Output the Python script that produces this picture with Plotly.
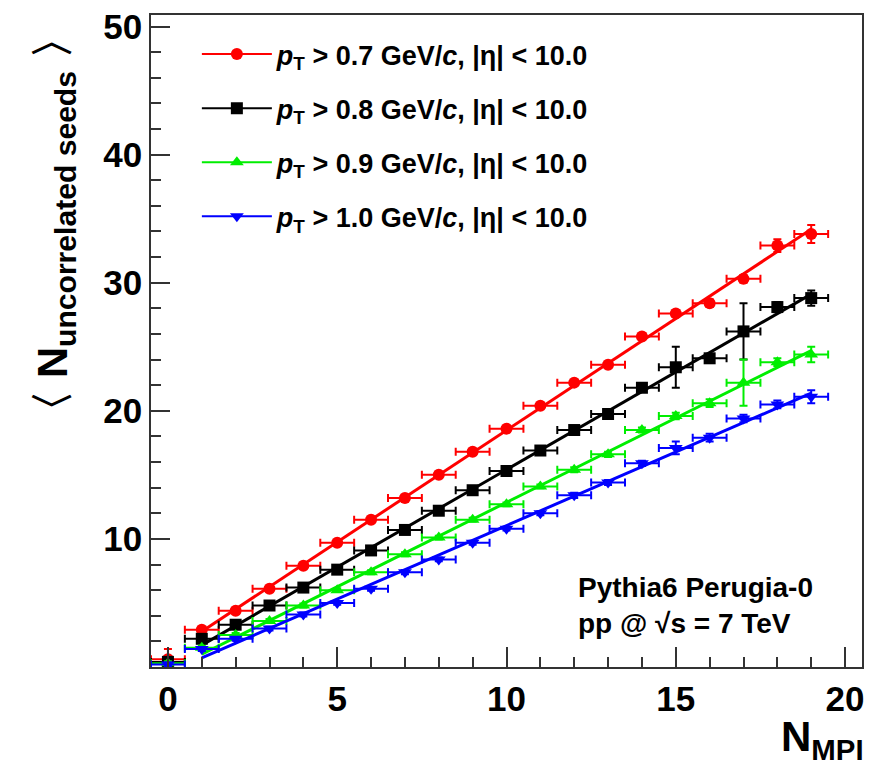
import numpy as np
import plotly.graph_objects as go

# ---- data ----
n_mpi = list(range(0, 20))
red_vals = [0.6, 2.9, 4.4, 6.1, 7.9, 9.7, 11.5, 13.2, 15.0, 16.8, 18.6, 20.4, 22.2, 23.6, 25.8, 27.6, 28.4, 30.3, 32.9, 33.8]
black_vals = [0.4, 2.2, 3.3, 4.8, 6.2, 7.6, 9.1, 10.7, 12.2, 13.8, 15.3, 16.9, 18.5, 19.75, 21.8, 23.4, 24.1, 26.2, 28.1, 28.8]
green_vals = [0.3, 1.5, 2.5, 3.6, 4.8, 6.0, 7.4, 8.8, 10.1, 11.5, 12.7, 14.1, 15.4, 16.6, 18.5, 19.6, 20.6, 22.2, 23.8, 24.4]
blue_vals = [0.2, 1.4, 2.2, 3.0, 4.1, 5.0, 6.1, 7.4, 8.4, 9.7, 10.8, 12.0, 13.4, 14.4, 15.9, 17.1, 17.9, 19.4, 20.5, 21.1]

red_err = [0.8, 0.15, 0.15, 0.15, 0.15, 0.15, 0.15, 0.15, 0.15, 0.15, 0.15, 0.15, 0.2, 0.2, 0.2, 0.25, 0.3, 0.3, 0.5, 0.7]
black_err = [0.15, 0.15, 0.15, 0.15, 0.15, 0.15, 0.15, 0.15, 0.15, 0.15, 0.15, 0.15, 0.2, 0.2, 0.2, 1.6, 0.3, 2.2, 0.4, 0.6]
green_err = [0.15, 0.15, 0.15, 0.15, 0.15, 0.15, 0.15, 0.15, 0.15, 0.15, 0.15, 0.15, 0.2, 0.2, 0.2, 0.25, 0.3, 1.8, 0.3, 0.6]
blue_err = [0.15, 0.15, 0.15, 0.15, 0.15, 0.15, 0.15, 0.15, 0.15, 0.15, 0.15, 0.15, 0.2, 0.2, 0.2, 0.5, 0.3, 0.3, 0.3, 0.5]
x_half_width = 0.5

labels = [
    "<i>p</i><sub>T</sub> > 0.7 GeV/<i>c</i>, |η| < 10.0",
    "<i>p</i><sub>T</sub> > 0.8 GeV/<i>c</i>, |η| < 10.0",
    "<i>p</i><sub>T</sub> > 0.9 GeV/<i>c</i>, |η| < 10.0",
    "<i>p</i><sub>T</sub> > 1.0 GeV/<i>c</i>, |η| < 10.0",
]
colors = ["#ff0000", "#000000", "#00ee00", "#0000ff"]
symbols = ["circle", "square", "triangle-up", "triangle-down"]
series = [red_vals, black_vals, green_vals, blue_vals]
errors = [red_err, black_err, green_err, blue_err]
fit_range = (1, 19)

FONT = "Liberation Sans, Arial, Helvetica, sans-serif"

fig = go.Figure()

for i, (vals, errs, col, sym, lab) in enumerate(zip(series, errors, colors, symbols, labels)):
    xs = np.array(n_mpi, dtype=float)
    ys = np.array(vals, dtype=float)
    fig.add_trace(go.Scatter(
        x=xs, y=ys, mode="markers",
        marker=dict(symbol=sym, size=12, color=col, line=dict(width=0)),
        error_x=dict(type="constant", value=x_half_width, color=col, thickness=2, width=4),
        error_y=dict(type="data", array=errs, color=col, thickness=2, width=4),
        showlegend=False, hoverinfo="skip",
    ))
    m = (xs >= fit_range[0]) & (xs <= fit_range[1])
    p = np.polyfit(xs[m], ys[m], 1)
    fx = np.array(fit_range, dtype=float)
    fig.add_trace(go.Scatter(
        x=fx, y=np.polyval(p, fx), mode="lines",
        line=dict(color=col, width=3), showlegend=False, hoverinfo="skip",
    ))
    fig.add_trace(go.Scatter(
        x=[None], y=[None], mode="lines+markers", name=lab,
        line=dict(color=col, width=2),
        marker=dict(symbol=sym, size=12, color=col),
        legendgroup=f"g{i}", showlegend=True,
    ))

axis_common = dict(
    showgrid=False, zeroline=False, showline=True, mirror=True,
    linecolor="#333333", linewidth=1.5,
    ticks="inside", tickcolor="#333333", tickwidth=1.5,
    tickfont=dict(family=FONT, size=35, color="black", weight="bold"),
)

fig.update_xaxes(
    range=[-0.5, 20.5], tickvals=[0, 5, 10, 15, 20], ticklen=20,
    minor=dict(dtick=1, ticks="inside", ticklen=10, tickcolor="#333333", tickwidth=1.5),
    **axis_common,
)
fig.update_yaxes(
    range=[0, 50.9], tickvals=[10, 20, 30, 40, 50], ticklen=19,
    minor=dict(dtick=2, ticks="inside", ticklen=10, tickcolor="#333333", tickwidth=1.5),
    **axis_common,
)

plot_l, plot_w = 151, 713
plot_t, plot_h = 11, 656


def px(xp):
    return (xp - plot_l) / plot_w


def py(yp):
    return (plot_t + plot_h - yp) / plot_h


fig.update_layout(
    width=871, height=769,
    margin=dict(l=plot_l, r=871 - plot_l - plot_w, t=plot_t, b=769 - plot_t - plot_h),
    plot_bgcolor="white", paper_bgcolor="white",
    legend=dict(
        x=px(197), y=0.977, xanchor="left", yanchor="top",
        font=dict(family=FONT, size=27, color="black", weight="bold"),
        bgcolor="rgba(0,0,0,0)", tracegroupgap=16, traceorder="grouped",
        itemwidth=70,
    ),
    annotations=[
        dict(text="〈 N<sub>uncorrelated seeds</sub> 〉", textangle=-90,
             x=px(54), y=py(222), xref="paper", yref="paper",
             xanchor="center", yanchor="middle", showarrow=False,
             font=dict(family=FONT, size=43, color="black", weight="bold")),
        dict(text="N<sub>MPI</sub>", x=px(868), y=py(740), xref="paper", yref="paper",
             xanchor="right", yanchor="middle", showarrow=False,
             font=dict(family=FONT, size=42, color="black", weight="bold")),
        dict(text="Pythia6 Perugia-0", x=px(577), y=py(587), xref="paper", yref="paper",
             xanchor="left", yanchor="middle", showarrow=False,
             font=dict(family=FONT, size=28, color="black", weight="bold")),
        dict(text="pp @ √s = 7 TeV", x=px(577), y=py(623), xref="paper", yref="paper",
             xanchor="left", yanchor="middle", showarrow=False,
             font=dict(family=FONT, size=28, color="black", weight="bold")),
    ],
)

fig.write_html("out.html")
